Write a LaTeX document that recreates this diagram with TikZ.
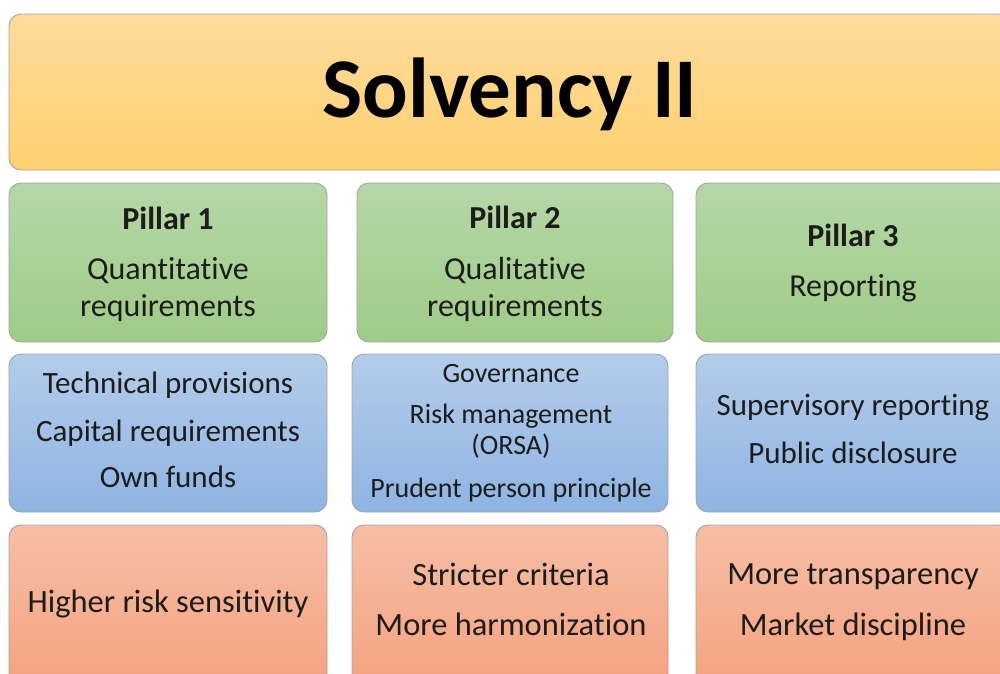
\documentclass[tikz,border=0pt]{standalone}
\usepackage{fontspec}
\setmainfont{Carlito}[Ligatures={NoCommon,NoContextual}]
\usetikzlibrary{shadings}
\definecolor{txtc}{HTML}{1C1C1C}
\definecolor{ytop}{HTML}{FEDB9D}
\definecolor{ybot}{HTML}{FED06F}
\definecolor{gtop}{HTML}{B5D7A7}
\definecolor{gbot}{HTML}{9FCB87}
\definecolor{btop}{HTML}{B3CCEA}
\definecolor{bbot}{HTML}{8FB4E2}
\definecolor{otop}{HTML}{F6BEA6}
\definecolor{obot}{HTML}{F4A17E}
\definecolor{edge}{HTML}{A3A3A3}
\tikzset{
  panel/.style={rectangle, rounded corners=12pt, draw=edge, line width=0.9pt, inner sep=0pt},
  ybox/.style={panel, top color=ytop, bottom color=ybot},
  gbox/.style={panel, top color=gtop, bottom color=gbot},
  bbox/.style={panel, top color=btop, bottom color=bbot},
  obox/.style={panel, top color=otop, bottom color=obot},
  txt/.style={anchor=base, inner sep=0pt, text=txtc},
}
\newcommand{\fs}[1]{\fontsize{#1}{#1}\selectfont}
\begin{document}
\begin{tikzpicture}[x=1pt,y=-1pt]
\useasboundingbox (0,0) rectangle (1000,673);
\clip (0,0) rectangle (1000,673);
% boxes
\node[ybox, minimum width=1002pt, minimum height=156pt] (top) at (510,92) {};
\node[gbox, minimum width=318pt, minimum height=159pt] (g1) at (168,262.5) {};
\node[gbox, minimum width=316pt, minimum height=159pt] (g2) at (515,262.5) {};
\node[gbox, minimum width=315pt, minimum height=159pt] (g3) at (853.5,262.5) {};
\node[bbox, minimum width=318pt, minimum height=158pt] (b1) at (168,433) {};
\node[bbox, minimum width=316pt, minimum height=158pt] (b2) at (510,433) {};
\node[bbox, minimum width=315pt, minimum height=158pt] (b3) at (853.5,433) {};
\node[obox, minimum width=318pt, minimum height=165pt] (o1) at (168,607.5) {};
\node[obox, minimum width=316pt, minimum height=165pt] (o2) at (510,607.5) {};
\node[obox, minimum width=315pt, minimum height=165pt] (o3) at (853.5,607.5) {};
% title
\node[txt, text=black, font=\fs{85}\bfseries] (title) at (510,117) {Solvency II};
% pillar row
\node[txt, font=\fs{32}\bfseries] (p1) at (168,229) {Pillar 1};
\node[txt, font=\fs{32}] (p1a) at (168,279) {Quantitative};
\node[txt, font=\fs{32}] (p1b) at (168,316) {requirements};
\node[txt, font=\fs{32}\bfseries] (p2) at (515,228) {Pillar 2};
\node[txt, font=\fs{32}] (p2a) at (515,279) {Qualitative};
\node[txt, font=\fs{32}] (p2b) at (515,316) {requirements};
\node[txt, font=\fs{32}\bfseries] (p3) at (853,246) {Pillar 3};
\node[txt, font=\fs{32}] (p3a) at (853,296) {Reporting};
% blue row
\node[txt, font=\fs{31}] (b1a) at (168,393) {Technical provisions};
\node[txt, font=\fs{31}] (b1b) at (168,441) {Capital requirements};
\node[txt, font=\fs{31}] (b1c) at (168,487) {Own funds};
\node[txt, font=\fs{28}] (b2a) at (511,382) {Governance};
\node[txt, font=\fs{28}] (b2b) at (511,423) {Risk management};
\node[txt, font=\fs{28}] (b2c) at (511,454) {(ORSA)};
\node[txt, font=\fs{28}] (b2d) at (511,497) {Prudent person principle};
\node[txt, font=\fs{31}] (b3a) at (853,415) {Supervisory reporting};
\node[txt, font=\fs{31}] (b3b) at (853,463) {Public disclosure};
% orange row
\node[txt, font=\fs{32.5}] (o1a) at (168,612) {Higher risk sensitivity};
\node[txt, font=\fs{32.5}] (o2a) at (511,585) {Stricter criteria};
\node[txt, font=\fs{32.5}] (o2b) at (511,635) {More harmonization};
\node[txt, font=\fs{32.5}] (o3a) at (853,584) {More transparency};
\node[txt, font=\fs{32.5}] (o3b) at (853,635) {Market discipline};
\end{tikzpicture}
\end{document}
